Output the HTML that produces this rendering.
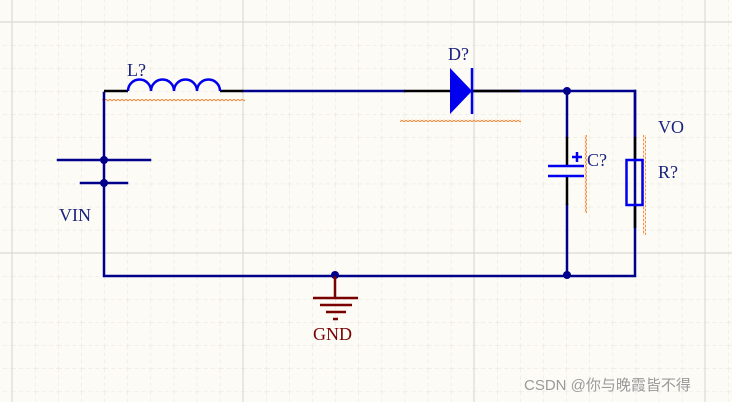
<!DOCTYPE html>
<html><head><meta charset="utf-8"><style>
html,body{margin:0;padding:0;background:#fdfbf6;}
svg{display:block}
text{font-family:"Liberation Serif",serif;font-size:18px;fill:#1a237e}
</style></head><body>
<svg width="732" height="402" viewBox="0 0 732 402" xmlns="http://www.w3.org/2000/svg">
<defs>
<pattern id="g" x="12" y="22" width="23.1" height="23.1" patternUnits="userSpaceOnUse">
<path d="M0 0V23.1M0 0H23.1" stroke="#e6e3dc" stroke-width="1" stroke-dasharray="4 3" fill="none"/>
</pattern>
<pattern id="zz" width="4" height="3" patternUnits="userSpaceOnUse"><path d="M0 2L2 0L4 2" stroke="#f08a3c" fill="none" stroke-width="1"/></pattern>
<pattern id="zv" width="3" height="4" patternUnits="userSpaceOnUse"><path d="M2 0L0 2L2 4" stroke="#f08a3c" fill="none" stroke-width="1"/></pattern>
</defs>
<rect width="732" height="402" fill="#fdfbf6"/>
<rect width="732" height="402" fill="url(#g)"/>
<g stroke="#dcdad4" stroke-width="1.2">
<line x1="12" y1="0" x2="12" y2="402"/><line x1="243" y1="0" x2="243" y2="402"/><line x1="474" y1="0" x2="474" y2="402"/><line x1="705" y1="0" x2="705" y2="402"/>
<line x1="0" y1="22" x2="732" y2="22"/><line x1="0" y1="253" x2="732" y2="253"/>
</g>
<!-- orange squiggles -->
<rect x="102" y="99" width="143" height="3" fill="url(#zz)"/>
<rect x="400" y="119" width="121" height="3" fill="url(#zz)"/>
<rect x="584" y="135" width="3" height="78" fill="url(#zv)"/>
<rect x="643" y="135" width="3" height="100" fill="url(#zv)"/>
<g stroke="#00008b" stroke-width="2.5" fill="none" stroke-linecap="square">
<path d="M104 93V276H635V91H472"/>
<line x1="243" y1="91" x2="404" y2="91"/>
<line x1="567" y1="91" x2="567" y2="137"/>
<line x1="567" y1="205" x2="567" y2="276"/>
<line x1="635" y1="91" x2="635" y2="137"/>
<line x1="58" y1="160" x2="150" y2="160"/>
<line x1="81" y1="183" x2="127" y2="183"/>
</g>
<g stroke="#000" stroke-width="2.5">
<line x1="104" y1="91" x2="128" y2="91"/><line x1="220" y1="91" x2="243" y2="91"/>
<line x1="404" y1="91" x2="450" y2="91"/><line x1="472" y1="91" x2="520" y2="91"/>
<line x1="567" y1="137" x2="567" y2="166"/><line x1="567" y1="176" x2="567" y2="205"/>
<line x1="635" y1="137" x2="635" y2="160"/><line x1="635" y1="205" x2="635" y2="228"/>
</g>
<line x1="520" y1="91" x2="567" y2="91" stroke="#00008b" stroke-width="2.5"/>
<!-- inductor -->
<path d="M128 91a11.5 11.5 0 0 1 23 0a11.5 11.5 0 0 1 23 0a11.5 11.5 0 0 1 23 0a11.5 11.5 0 0 1 23 0" stroke="#0000ee" stroke-width="2.5" fill="none"/>
<!-- diode -->
<polygon points="450,68 450,114 472,91" fill="#0000ee"/>
<line x1="472" y1="68" x2="472" y2="114" stroke="#0000ee" stroke-width="2.5"/>
<!-- cap -->
<g stroke="#0000ee" stroke-width="2.5">
<line x1="548" y1="166" x2="584" y2="166"/><line x1="548" y1="176" x2="584" y2="176"/>
<line x1="572" y1="157" x2="582" y2="157"/><line x1="577" y1="152" x2="577" y2="162"/>
</g>
<rect x="626.5" y="160" width="16" height="45" stroke="#0000ee" stroke-width="2.5" fill="none"/>
<!-- dots -->
<g fill="#00008b">
<circle cx="104" cy="160" r="4"/><circle cx="104" cy="183" r="4"/>
<circle cx="567" cy="91" r="4"/><circle cx="567" cy="275" r="4"/><circle cx="335" cy="275" r="4"/>
</g>
<!-- GND -->
<g stroke="#7a0000" stroke-width="2.5">
<line x1="335" y1="276" x2="335" y2="298"/>
<line x1="313" y1="298" x2="358" y2="298"/>
<line x1="320" y1="305" x2="352" y2="305"/>
<line x1="326" y1="312" x2="346" y2="312"/>
<line x1="333" y1="319" x2="338" y2="319"/>
</g>
<text x="313" y="340" style="fill:#7a0000">GND</text>
<text x="127" y="76">L?</text>
<text x="448" y="60">D?</text>
<text x="587" y="166">C?</text>
<text x="658" y="133">VO</text>
<text x="658" y="178">R?</text>
<text x="59" y="221">VIN</text>
<text x="524" y="390" style="font-family:'Liberation Sans','Noto Sans CJK SC',sans-serif;font-size:15px;fill:#9a9a9a">CSDN @你与晚霞皆不得</text>
</svg>
</body></html>
